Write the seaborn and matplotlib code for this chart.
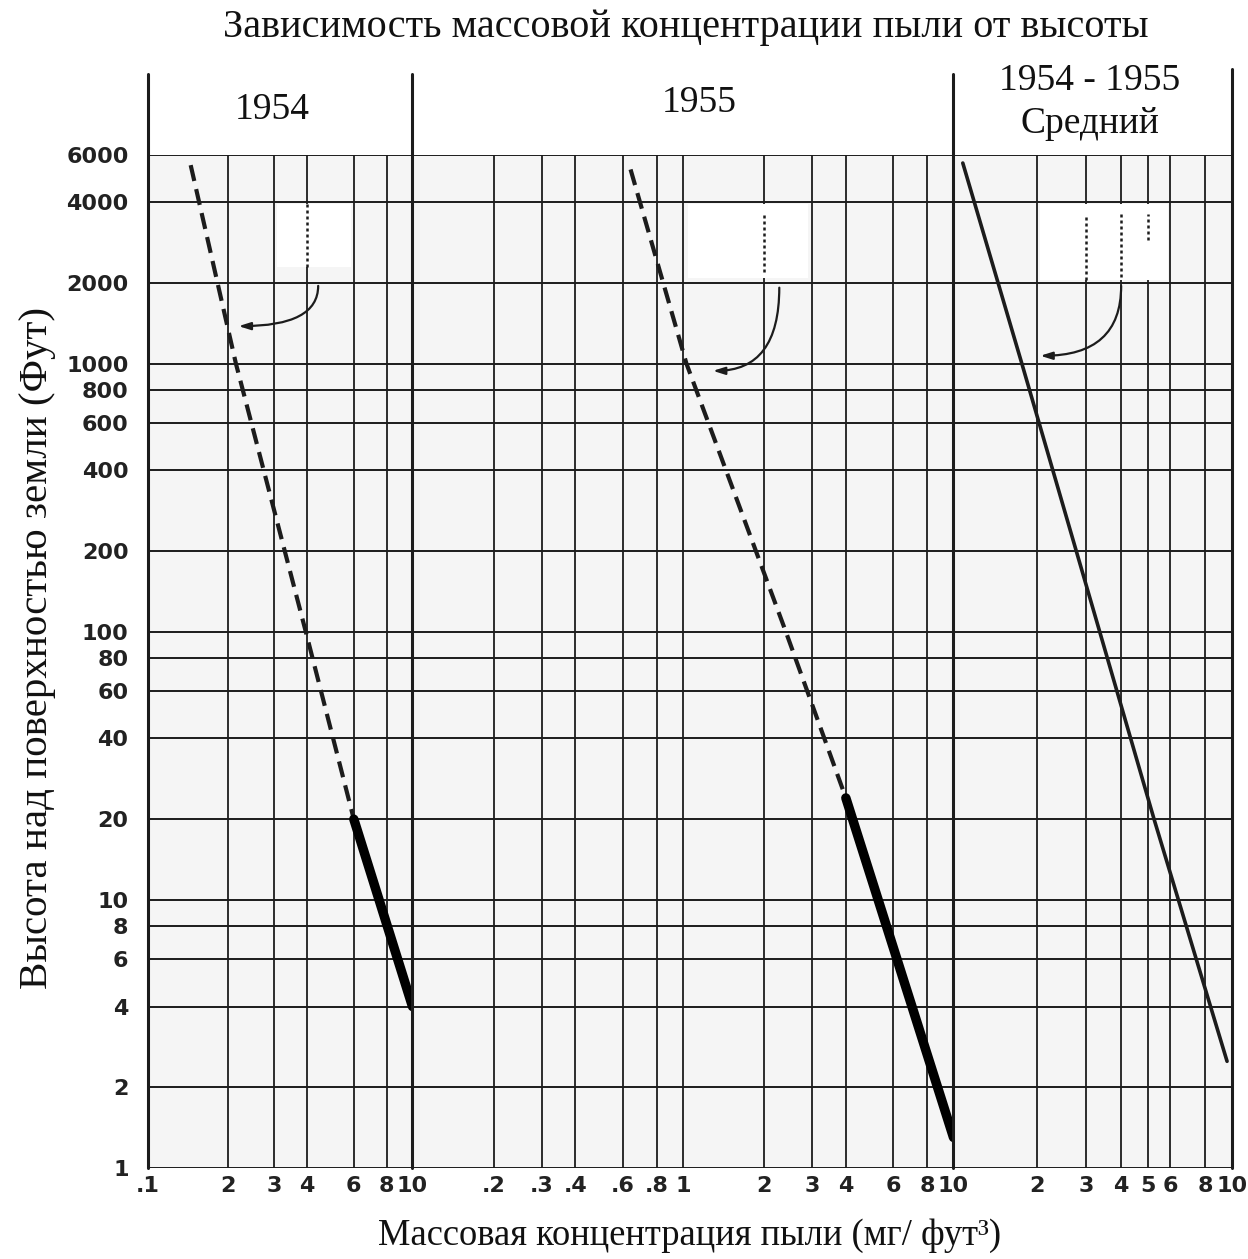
import numpy as np
import pandas as pd
import matplotlib
matplotlib.use("Agg")
import matplotlib.pyplot as plt
from matplotlib.patches import Rectangle
from matplotlib.font_manager import FontProperties
from matplotlib.ticker import NullLocator, FixedLocator, FixedFormatter
import seaborn as sns

sns.set_style("white")
plt.rcParams['font.family'] = ['Liberation Serif', 'DejaVu Serif']

# ---- axes layout data ----
panel_titles = ["1954", "1955", "1954 - 1955\nСредний"]
panel_xlims = [(1, 10), (0.1, 10), (1, 10)]
panel_xgrid = [[2, 3, 4, 6, 8],
               [0.2, 0.3, 0.4, 0.6, 0.8, 1, 2, 3, 4, 6, 8],
               [2, 3, 4, 5, 6, 8]]
panel_xticks = [[1, 2, 3, 4, 6, 8, 10],
                [0.2, 0.3, 0.4, 0.6, 0.8, 1, 2, 3, 4, 6, 8, 10],
                [2, 3, 4, 5, 6, 8, 10]]
panel_xticklabels = [[".1", "2", "3", "4", "6", "8", "10"],
                     [".2", ".3", ".4", ".6", ".8", "1", "2", "3", "4", "6", "8", "10"],
                     ["2", "3", "4", "5", "6", "8", "10"]]
height_ticks = [1, 2, 4, 6, 8, 10, 20, 40, 60, 80, 100, 200, 400,
                600, 800, 1000, 2000, 4000, 6000]

# ---- dust concentration profiles ----
# 1954: extrapolated (dashed) and measured (heavy) parts
h54_dash = [5500, 1000, 100, 20]
c54_dash = [1.45, 2.15, 3.95, 6.0]
h54_solid = [20, 4]
c54_solid = [6.0, 10]
# 1955
h55_dash = [5300, 1000, 100, 24]
c55_dash = [0.64, 1.03, 2.4, 4.0]
h55_solid = [24, 1.3]
c55_solid = [4.0, 10]
# 1954-1955 mean
h_mean = [5600, 1000, 100, 20, 2.5]
c_mean = [1.08, 1.76, 3.35, 5.25, 9.6]

# curved pointer arrows: (start x, start y, end x, end y)
arrows = [(4.4, 1950, 2.2, 1380),
          (2.27, 1920, 1.29, 940),
          (4.0, 1950, 2.05, 1070)]
# blank label areas: (x0, x1, y0, y1)
blanks = [(3.08, 5.85, 2300, 3950),
          (1.04, 2.9, 2080, 3950),
          (2.04, 5.9, 2050, 3950)]
# dotted remnants inside blank areas: (x, y0, y1)
dotted = [[(4.0, 2300, 3950)],
          [(2.0, 2200, 3600)],
          [(3.0, 2050, 3600), (4.0, 2100, 3600), (5.0, 2900, 3600)]]

ink = "#1c1c1c"
paper = "#f5f5f5"

W, H = 1248, 1259
fig = plt.figure(figsize=(W / 100, H / 100), dpi=100)
fig.patch.set_facecolor("white")
gs = fig.add_gridspec(1, 3, left=148 / W, right=1232 / W,
                      top=1 - 155 / H, bottom=1 - 1168 / H,
                      wspace=0, width_ratios=[264, 540, 278])
axes = [fig.add_subplot(gs[0, i]) for i in range(3)]

tick_font = dict(family="DejaVu Sans", weight="bold", size=16)

for i, ax in enumerate(axes):
    ax.set_facecolor(paper)
    ax.set_xscale("log")
    ax.set_yscale("log")
    ax.set_xlim(*panel_xlims[i])
    ax.set_ylim(1, 6000)
    for s in ax.spines.values():
        s.set_visible(False)
    # grid
    for y in height_ticks:
        ax.axhline(y, color=ink, lw=1.4, zorder=1)
    for x in panel_xgrid[i]:
        ax.axvline(x, color=ink, lw=1.3, zorder=1)
    # panel borders, extended upward into the header strip
    ax.axvline(panel_xlims[i][0], ymin=0, ymax=1.08, color=ink, lw=2.2,
               clip_on=False, zorder=5)
    if i == 2:
        ax.axvline(panel_xlims[i][1], ymin=0, ymax=1.085, color=ink, lw=2.2,
                   clip_on=False, zorder=5)
    # ticks
    ax.xaxis.set_minor_locator(NullLocator())
    ax.yaxis.set_minor_locator(NullLocator())
    ax.xaxis.set_major_locator(FixedLocator(panel_xticks[i]))
    ax.xaxis.set_major_formatter(FixedFormatter(panel_xticklabels[i]))
    for lab in ax.get_xticklabels():
        lab.set_fontproperties(FontProperties(**tick_font))
        lab.set_color("#222222")
    ax.tick_params(axis="x", length=0, pad=6)
    if i == 0:
        ax.yaxis.set_major_locator(FixedLocator(height_ticks))
        ax.yaxis.set_major_formatter(FixedFormatter([str(v) for v in height_ticks]))
        for lab in ax.get_yticklabels():
            lab.set_fontproperties(FontProperties(**tick_font))
            lab.set_color("#222222")
        ax.tick_params(axis="y", length=0, pad=14)
    else:
        ax.tick_params(axis="y", length=0, labelleft=False)

    # blank label area with dotted remnants
    x0, x1, y0, y1 = blanks[i]
    ax.add_patch(Rectangle((x0, y0), x1 - x0, y1 - y0, facecolor="white",
                           edgecolor="none", zorder=2))
    for (xd, ya, yb) in dotted[i]:
        ax.plot([xd, xd], [ya, yb], color=ink, lw=1.8, linestyle=(0, (1.2, 1.2)),
                zorder=3)
    # pointer arrow
    sx, sy, ex, ey = arrows[i]
    ax.annotate("", xy=(ex, ey), xytext=(sx, sy),
                arrowprops=dict(arrowstyle="-|>,head_length=0.7,head_width=0.22",
                                connectionstyle="angle3,angleA=90,angleB=0",
                                color=ink, lw=1.6, shrinkA=0, shrinkB=0),
                zorder=4)

# profiles
dash_style = (0, (3.9, 2.0))
for ax, hd, cd, hs, cs in [(axes[0], h54_dash, c54_dash, h54_solid, c54_solid),
                           (axes[1], h55_dash, c55_dash, h55_solid, c55_solid)]:
    sns.lineplot(data=pd.DataFrame({"c": cd, "h": hd}), x="c", y="h", ax=ax,
                 sort=False, estimator=None, color=ink, lw=3.0,
                 linestyle=dash_style, zorder=6)
    sns.lineplot(data=pd.DataFrame({"c": cs, "h": hs}), x="c", y="h", ax=ax,
                 sort=False, estimator=None, color="black", lw=6.8,
                 solid_capstyle="round", zorder=6)
sns.lineplot(data=pd.DataFrame({"c": c_mean, "h": h_mean}), x="c", y="h",
             ax=axes[2], sort=False, estimator=None, color=ink, lw=2.6, zorder=6)
for ax in axes:
    ax.set_xlabel("")
    ax.set_ylabel("")

# panel headings
title_font = dict(family="Liberation Serif", size=27, color="#111111")
axes[0].text(0.47, 1.045, panel_titles[0], transform=axes[0].transAxes,
             ha="center", va="center", **title_font)
axes[1].text(0.53, 1.052, panel_titles[1], transform=axes[1].transAxes,
             ha="center", va="center", **title_font)
axes[2].text(0.49, 1.052, panel_titles[2], transform=axes[2].transAxes,
             ha="center", va="center", linespacing=1.35, **title_font)

fig.text(686 / W, 1 - 28 / H, "Зависимость массовой концентрации пыли от высоты",
         ha="center", va="center", family="Liberation Serif", size=29,
         color="#111111")
fig.text(690 / W, 1 - 1236 / H, "Массовая концентрация пыли (мг/ фут³)",
         ha="center", va="center", family="Liberation Serif", size=26.3,
         color="#111111")
fig.text(38 / W, 1 - 648 / H, "Высота над поверхностью земли (Фут)",
         ha="center", va="center", rotation=90, family="Liberation Serif",
         size=29.5, color="#111111")

fig.savefig("out.png", dpi=100, facecolor="white")
